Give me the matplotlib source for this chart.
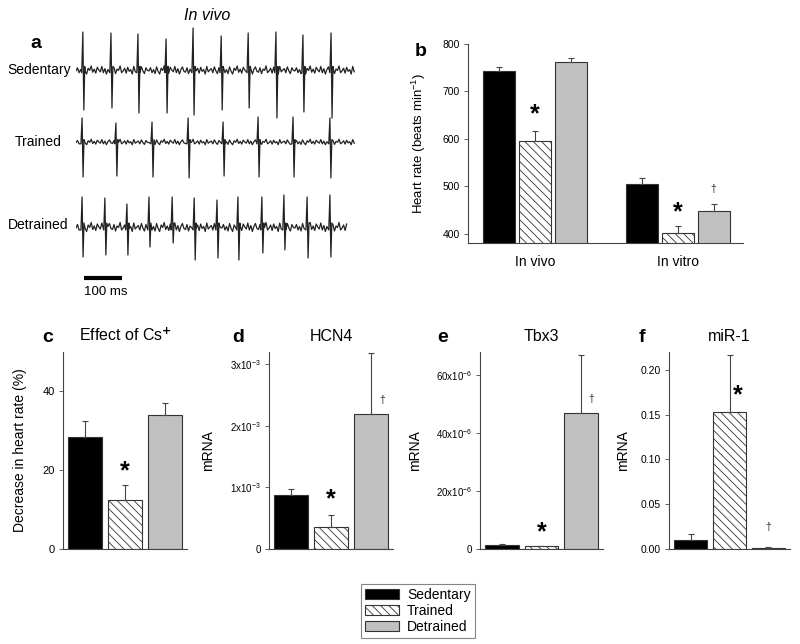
import matplotlib.pyplot as plt
import numpy as np
from matplotlib.ticker import FuncFormatter

plt.rcParams['font.family'] = ['Liberation Sans', 'DejaVu Sans']
plt.rcParams['mathtext.fontset'] = 'custom'
plt.rcParams['mathtext.rm'] = 'Liberation Sans'
plt.rcParams['mathtext.it'] = 'Liberation Sans:italic'
plt.rcParams['hatch.linewidth'] = 0.6

groups = ['Sedentary', 'Trained', 'Detrained']

# panel a: ECG beats (ms from trace start) and spike sizes (px up / down)
sed_beats = [18, 92, 163, 237, 308, 382, 453, 526, 597, 671]
sed_up = [38, 37, 36, 31, 42, 34, 37, 38, 35, 37]
sed_dn = [40, 38, 43, 43, 45, 40, 38, 48, 42, 48]
tr_beats = [16, 105, 200, 295, 387, 479, 571, 668]
tr_up = [24, 19, 20, 24, 20, 25, 25, 24]
tr_dn = [35, 34, 35, 36, 34, 35, 35, 36]
det_beats = [16, 76, 134, 192, 253, 311, 371, 426, 489, 547, 608, 668]
det_up = [30, 29, 23, 30, 30, 29, 27, 30, 30, 32, 30, 32]
det_dn = [30, 28, 28, 20, 16, 33, 31, 33, 26, 23, 31, 30]
trace_end = [734, 734, 713]
jitter = [0.2, -0.5, 0.6, -0.1, 0.8, -0.7, 0.3, 0.9, -0.4, 0.1, -0.9, 0.5,
          -0.2, 0.7, -0.6, 0.0, 0.4, -0.8, 0.6, -0.3, 0.9, -0.1, -0.7, 0.3,
          0.5, -0.5, 0.8, -0.2, 0.1, -0.9, 0.6, 0.2, -0.4, 0.7, -0.6, 0.3,
          -0.1, 0.9, -0.8, 0.4, 0.0, -0.3, 0.6, -0.7, 0.2, 0.8, -0.5, 0.1]

# panel b
hr_groups = ['In vivo', 'In vitro']
hr_sed = [742, 505]
hr_sed_err = [10, 13]
hr_tr = [595, 402]
hr_tr_err = [21, 13]
hr_det = [762, 447]
hr_det_err = [8, 16]

# panels c-f (Sedentary, Trained, Detrained)
cs_mean = [28.5, 12.5, 34.0]
cs_err = [4.0, 3.8, 3.0]
hcn4_mean = [0.88e-3, 0.35e-3, 2.20e-3]
hcn4_err = [0.09e-3, 0.20e-3, 0.98e-3]
tbx3_mean = [1.5e-6, 1.0e-6, 47e-6]
tbx3_err = [0.2e-6, 0.2e-6, 20e-6]
mir1_mean = [0.0095, 0.153, 0.0012]
mir1_err = [0.007, 0.064, 0.0008]

colors = ['black', 'white', '#c0c0c0']
hatches = [None, '\\\\\\\\', None]
edge = '#333333'

fig = plt.figure(figsize=(8, 6.44), dpi=100)


def px_axes(l, t, r, b):
    return fig.add_axes([l / 800, 1 - b / 644, (r - l) / 800, (b - t) / 644])


def style(ax):
    for s in ['top', 'right']:
        ax.spines[s].set_visible(False)
    for s in ['left', 'bottom']:
        ax.spines[s].set_color('#444444')
        ax.spines[s].set_linewidth(0.8)
    ax.tick_params(axis='y', direction='out', length=3, width=0.6,
                   color='#444444', labelsize=7.5, pad=3)
    ax.tick_params(axis='x', length=0)


def mark(ax, x, y, sym, dx=0, dy=10):
    if sym == '*':
        ax.annotate('*', xy=(x, y), xytext=(dx, dy - 9), textcoords='offset pixels',
                    ha='center', va='bottom', fontsize=18, fontweight='bold')
    else:
        ax.annotate('\u2020', xy=(x, y), xytext=(dx, dy), textcoords='offset pixels',
                    ha='center', va='center', fontsize=7.5, color='#333333')


# ---- panel a ----
ax_a = px_axes(76, 0, 355, 300)
ax_a.set_xlim(0, 734)
ax_a.set_ylim(300, 0)
ax_a.axis('off')


def trace(beats, ups, dns, end, base, amp):
    pts = []
    for k, t in enumerate(np.arange(0, end, 4.0)):
        if min(abs(t - b) for b in beats) > 4.5:
            pts.append((t, base + jitter[k % len(jitter)] * amp))
    for b, u, d in zip(beats, ups, dns):
        pts += [(b - 3.0, base + 0.6 * amp), (b, base - u), (b + 2.6, base + d),
                (b + 5.0, base - 0.8 * amp)]
    pts.sort()
    return [p[0] for p in pts], [p[1] for p in pts]


for beats, ups, dns, end, base, amp in [
        (sed_beats, sed_up, sed_dn, trace_end[0], 70, 4.5),
        (tr_beats, tr_up, tr_dn, trace_end[1], 142, 3.0),
        (det_beats, det_up, det_dn, trace_end[2], 227, 5.0)]:
    tx, ty = trace(beats, ups, dns, end, base, amp)
    ax_a.plot(tx, ty, color='#222222', lw=0.9)

ax_a.plot([21, 121], [278, 278], color='black', lw=3, solid_capstyle='butt')
fig.text(84 / 800, 1 - 295 / 644, '100 ms', fontsize=9.5, va='baseline')
fig.text(207 / 800, 1 - 20 / 644, 'In vivo', fontsize=11.5, style='italic',
         ha='center', va='baseline')
fig.text(30 / 800, 1 - 48 / 644, 'a', fontsize=14, fontweight='bold', va='baseline')
fig.text(71 / 800, 1 - 74 / 644, 'Sedentary', fontsize=10, ha='right', va='baseline')
fig.text(62 / 800, 1 - 146 / 644, 'Trained', fontsize=10, ha='right', va='baseline')
fig.text(68 / 800, 1 - 229 / 644, 'Detrained', fontsize=10, ha='right', va='baseline')

# ---- panel b ----
ax_b = px_axes(468, 44, 743, 243)
style(ax_b)
xb = np.arange(len(hr_groups))
off = 0.252
wb = 0.224
bars = []
for i, (m, e) in enumerate([(hr_sed, hr_sed_err), (hr_tr, hr_tr_err), (hr_det, hr_det_err)]):
    b = ax_b.bar(xb + (i - 1) * off, m, wb, color=colors[i], hatch=hatches[i],
                 edgecolor=edge, linewidth=0.8, label=groups[i],
                 yerr=[np.zeros(len(e)), e], capsize=2.5,
                 error_kw=dict(ecolor='#444444', elinewidth=0.8, capthick=0.8))
    bars.append(b)
ax_b.set_ylim(380, 800)
ax_b.set_xlim(-0.469, 1.458)
ax_b.set_yticks([400, 500, 600, 700, 800])
ax_b.set_xticks(xb)
ax_b.set_xticklabels(hr_groups, fontsize=10)
ax_b.tick_params(axis='x', pad=9)
ax_b.set_ylabel('Heart rate (beats min$^{-1}$)', fontsize=9.5)
ax_b.yaxis.set_label_coords(-0.145, 0.5)
mark(ax_b, xb[0], hr_tr[0] + hr_tr_err[0], '*', dy=14)
mark(ax_b, xb[1], hr_tr[1] + hr_tr_err[1], '*', dy=11)
mark(ax_b, xb[1] + off, hr_det[1] + hr_det_err[1], '\u2020', dy=15)
fig.text(415 / 800, 1 - 56 / 644, 'b', fontsize=14, fontweight='bold', va='baseline')


# ---- panels c-f ----
def small_panel(l, r, mean, err, ylim, ticks, title, ylabel, lab_x, letter, letter_x, fmt=None):
    ax = px_axes(l, 352, r, 549)
    style(ax)
    x = np.arange(3)
    for i in range(3):
        ax.bar(x[i], mean[i], 0.86, color=colors[i], hatch=hatches[i],
               edgecolor=edge, linewidth=0.8,
               yerr=[[0], [err[i]]], capsize=2.5,
               error_kw=dict(ecolor='#444444', elinewidth=0.8, capthick=0.8))
    ax.set_xlim(-0.56, 2.56)
    ax.set_ylim(*ylim)
    ax.set_yticks(ticks)
    if fmt is not None:
        ax.yaxis.set_major_formatter(FuncFormatter(fmt))
    ax.set_xticks([])
    ax.set_title(title, fontsize=11.5, pad=8)
    ax.set_ylabel(ylabel, fontsize=10)
    ax.yaxis.set_label_coords(lab_x, 0.5)
    fig.text(letter_x / 800, 1 - 342 / 644, letter, fontsize=14, fontweight='bold',
             va='baseline')
    return ax


def sci(exp):
    def f(v, pos):
        if v == 0:
            return '0'
        return '%dx10$^{%d}$' % (round(v / 10 ** exp), exp)
    return f


ax_c = small_panel(63, 187, cs_mean, cs_err, (0, 50), [0, 20, 40],
                   'Effect of Cs$^{\\mathbf{+}}$', 'Decrease in heart rate (%)', -0.29, 'c', 42)
ax_c.tick_params(axis='y', labelsize=8)
mark(ax_c, 1, cs_mean[1] + cs_err[1], '*', dy=10)

ax_d = small_panel(269, 393, hcn4_mean, hcn4_err, (0, 3.2e-3), [0, 1e-3, 2e-3, 3e-3],
                   'HCN4', 'mRNA', -0.435, 'd', 232, fmt=sci(-3))
ax_d.tick_params(axis='y', labelsize=7)
mark(ax_d, 1, hcn4_mean[1] + hcn4_err[1], '*', dy=13)
mark(ax_d, 2, hcn4_mean[2], '\u2020', dx=11, dy=14)

ax_e = small_panel(480, 603, tbx3_mean, tbx3_err, (0, 68e-6), [0, 20e-6, 40e-6, 60e-6],
                   'Tbx3', 'mRNA', -0.47, 'e', 437, fmt=sci(-6))
ax_e.tick_params(axis='y', labelsize=7)
mark(ax_e, 1, tbx3_mean[1] + tbx3_err[1], '*', dy=10)
mark(ax_e, 2, tbx3_mean[2], '\u2020', dx=10, dy=14)

ax_f = small_panel(669, 790, mir1_mean, mir1_err, (0, 0.22), [0, 0.05, 0.10, 0.15, 0.20],
                   'miR-1', 'mRNA', -0.32, 'f', 639,
                   fmt=lambda v, pos: '%.2f' % v)
ax_f.tick_params(axis='y', labelsize=7.5)
mark(ax_f, 1, mir1_mean[1], '*', dx=8, dy=14)
mark(ax_f, 2, mir1_mean[2] + mir1_err[2], '\u2020', dy=20)

# legend
leg = fig.legend(handles=bars, labels=groups, loc='lower left',
                 bbox_to_anchor=(361 / 800, 6 / 644), borderaxespad=0,
                 fontsize=10, fancybox=False, frameon=True, handlelength=2.4,
                 handletextpad=0.6, labelspacing=0.15, borderpad=0.3)
leg.get_frame().set_edgecolor('#666666')
leg.get_frame().set_linewidth(0.8)

fig.savefig('out.png', dpi=100)
